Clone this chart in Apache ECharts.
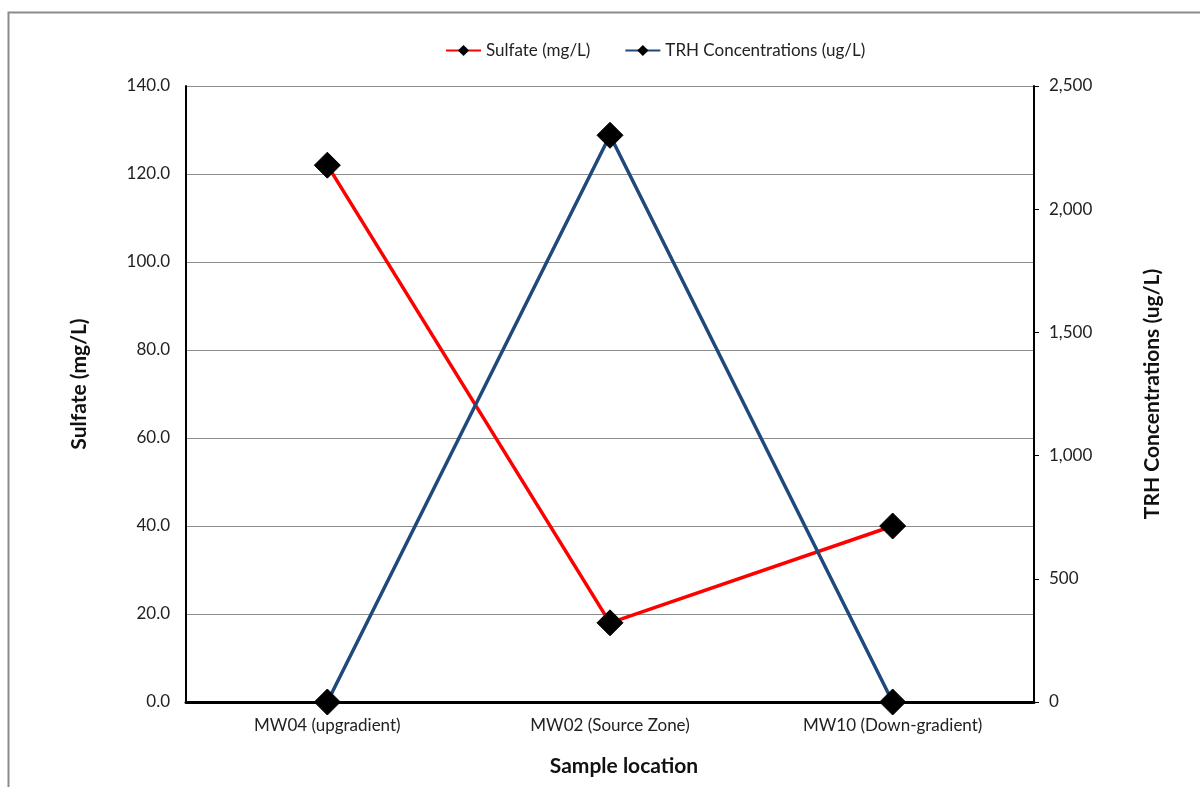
<!DOCTYPE html>
<html>
<head>
<meta charset="utf-8">
<script src="https://cdn.jsdelivr.net/npm/echarts@6/dist/echarts.min.js"></script>
<style>
  html, body { margin: 0; padding: 0; background: #fff; }
  #chart { width: 1200px; height: 787px; }
</style>
</head>
<body>
<div id="chart"></div>
<script>
// Sample locations along the groundwater flow path
const locations = ['MW04 (upgradient)', 'MW02 (Source Zone)', 'MW10 (Down-gradient)'];
// Sulfate concentrations (mg/L)
const sulfate = [122.0, 18.0, 40.0];
// Total recoverable hydrocarbons (ug/L)
const trh = [0, 2300, 0];

const FONT = 'Lato, "Open Sans", sans-serif';

const chart = echarts.init(document.getElementById('chart'));
chart.setOption({
  animation: false,
  textStyle: { fontFamily: FONT },
  graphic: [{
    type: 'rect',
    shape: { x: 8.5, y: 12.5, width: 1300, height: 900 },
    style: { fill: 'none', stroke: '#8c8c8c', lineWidth: 2 },
    silent: true
  }],
  legend: {
    top: 37,
    left: 440,
    itemWidth: 35,
    itemHeight: 14,
    itemGap: 34,
    textStyle: { fontFamily: FONT, fontSize: 17, color: '#222' },
    data: ['Sulfate (mg/L)', 'TRH Concentrations (ug/L)']
  },
  grid: { left: 186, right: 166, top: 86, bottom: 85 },
  xAxis: {
    type: 'category',
    data: locations,
    boundaryGap: true,
    name: 'Sample location',
    nameLocation: 'middle',
    nameGap: 54,
    nameTextStyle: {
      fontFamily: FONT, fontSize: 21, fontWeight: 'bold', color: '#111',
      padding: [0, 0, 0, 28]
    },
    axisLine: { lineStyle: { color: '#000', width: 3 } },
    axisTick: { show: false },
    axisLabel: { fontFamily: FONT, fontSize: 17, color: '#222', margin: 15 }
  },
  yAxis: [{
    type: 'value',
    min: 0, max: 140, interval: 20,
    name: 'Sulfate (mg/L)',
    nameLocation: 'middle',
    nameRotate: 90,
    nameGap: 96,
    nameTextStyle: {
      fontFamily: FONT, fontSize: 21, fontWeight: 'bold', color: '#111',
      padding: [0, 0, 0, 20]
    },
    axisLine: { show: true, lineStyle: { color: '#000', width: 2 } },
    axisTick: { show: false },
    axisLabel: {
      fontFamily: FONT, fontSize: 17, color: '#222', margin: 16,
      formatter: v => v.toFixed(1)
    },
    splitLine: { show: true, lineStyle: { color: '#8c8c8c', width: 1 } }
  }, {
    type: 'value',
    position: 'right',
    min: 0, max: 2500, interval: 500,
    name: 'TRH Concentrations (ug/L)',
    nameLocation: 'middle',
    nameRotate: 90,
    nameGap: 108,
    nameTextStyle: { fontFamily: FONT, fontSize: 21, fontWeight: 'bold', color: '#111' },
    axisLine: { show: true, lineStyle: { color: '#000', width: 2 } },
    axisTick: { show: true, inside: false, length: 5, lineStyle: { color: '#000', width: 1 } },
    axisLabel: {
      fontFamily: FONT, fontSize: 17, color: '#222', margin: 15,
      formatter: v => v.toLocaleString('en-US')
    },
    splitLine: { show: false }
  }],
  series: [{
    name: 'Sulfate (mg/L)',
    type: 'line',
    yAxisIndex: 0,
    data: sulfate,
    symbol: 'diamond',
    symbolSize: 26,
    lineStyle: { color: '#ff0000', width: 3.5 },
    itemStyle: { color: '#000', borderColor: '#000' },
    z: 3
  }, {
    name: 'TRH Concentrations (ug/L)',
    type: 'line',
    yAxisIndex: 1,
    data: trh,
    symbol: 'diamond',
    symbolSize: 26,
    lineStyle: { color: '#1f497d', width: 3.5 },
    itemStyle: { color: '#000', borderColor: '#000' },
    z: 4
  }]
});
</script>
</body>
</html>
